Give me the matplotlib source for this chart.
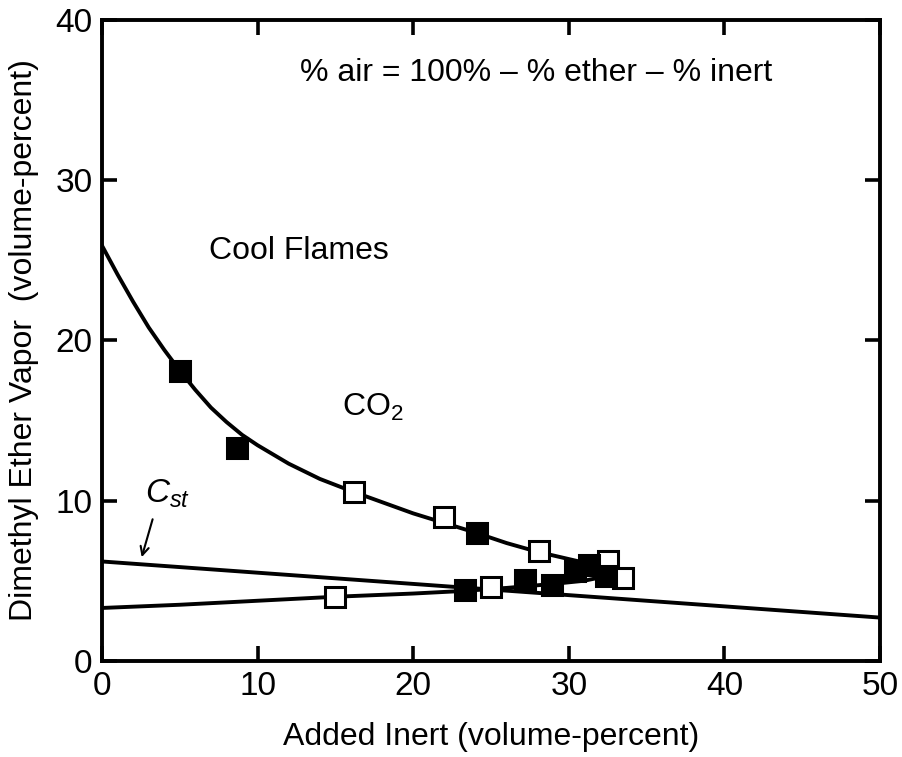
import matplotlib.pyplot as plt

plt.rcParams['font.family'] = ['Liberation Sans', 'DejaVu Sans']
plt.rcParams['mathtext.fontset'] = 'custom'
plt.rcParams['mathtext.it'] = 'Liberation Sans:italic'
plt.rcParams['mathtext.rm'] = 'Liberation Sans'

# measured points, CO2 as inert
filled_x = [5.0, 8.7, 24.1, 23.3, 27.2, 28.9, 30.4, 31.3, 32.4]
filled_y = [18.1, 13.3, 8.0, 4.4, 5.05, 4.75, 5.6, 5.95, 5.3]
open_x = [16.2, 22.0, 28.1, 32.5, 33.5, 15.0, 25.0]
open_y = [10.55, 9.0, 6.85, 6.2, 5.2, 4.0, 4.6]

# upper cool-flame boundary
upper_x = [0, 1, 2, 3, 4, 5, 6, 7, 8, 9, 10, 12, 14, 16, 18, 20, 22, 24, 26, 28, 30, 32]
upper_y = [25.9, 24.1, 22.4, 20.8, 19.4, 18.1, 16.9, 15.8, 14.9, 14.1, 13.45, 12.3,
           11.35, 10.6, 9.9, 9.2, 8.6, 8.0, 7.35, 6.8, 6.35, 5.9]

# lower boundary
lower_x = [0, 5, 10, 15, 20, 23, 26, 29, 31, 32.5]
lower_y = [3.3, 3.5, 3.75, 4.0, 4.2, 4.35, 4.55, 4.8, 5.0, 5.3]

# stoichiometric line
cst_x = [0, 50]
cst_y = [6.2, 2.7]

fig = plt.figure(figsize=(9.03, 7.57), dpi=100)
ax = fig.add_axes([0.113, 0.127, 0.8615, 0.847])

ax.plot(upper_x, upper_y, color='black', lw=2.8, zorder=2)
ax.plot(lower_x, lower_y, color='black', lw=2.8, zorder=2)
ax.plot(cst_x, cst_y, color='black', lw=2.8, zorder=2)

ax.plot(open_x, open_y, 's', ms=14, mfc='white', mec='black', mew=2.2, ls='none', zorder=3)
ax.plot(filled_x, filled_y, 's', ms=14, mfc='black', mec='black', mew=2.2, ls='none', zorder=4)

ax.set_xlim(0, 50)
ax.set_ylim(0, 40)
ax.set_xticks([0, 10, 20, 30, 40, 50])
ax.set_yticks([0, 10, 20, 30, 40])
ax.tick_params(direction='in', length=11, width=2.6, labelsize=24, pad=7,
               top=True, right=True)
for s in ax.spines.values():
    s.set_linewidth(2.8)

ax.set_xlabel("Added Inert (volume-percent)", fontsize=23, labelpad=15)
ax.set_ylabel("Dimethyl Ether Vapor  (volume-percent)", fontsize=23, labelpad=12)

ax.text(27.9, 36.7, "% air = 100% \u2013 % ether \u2013 % inert", fontsize=23,
        ha='center', va='center')
ax.text(12.65, 25.6, "Cool Flames", fontsize=23, ha='center', va='center')
ax.text(17.4, 15.8, "CO$_2$", fontsize=23, ha='center', va='center')
ax.text(4.2, 10.4, "$C_{st}$", fontsize=24, ha='center', va='center')
ax.annotate("", xy=(2.5, 6.3), xytext=(3.3, 9.0),
            arrowprops=dict(arrowstyle='->,head_length=0.6,head_width=0.3',
                            color='black', lw=1.5))

fig.savefig("out.png", dpi=100)
